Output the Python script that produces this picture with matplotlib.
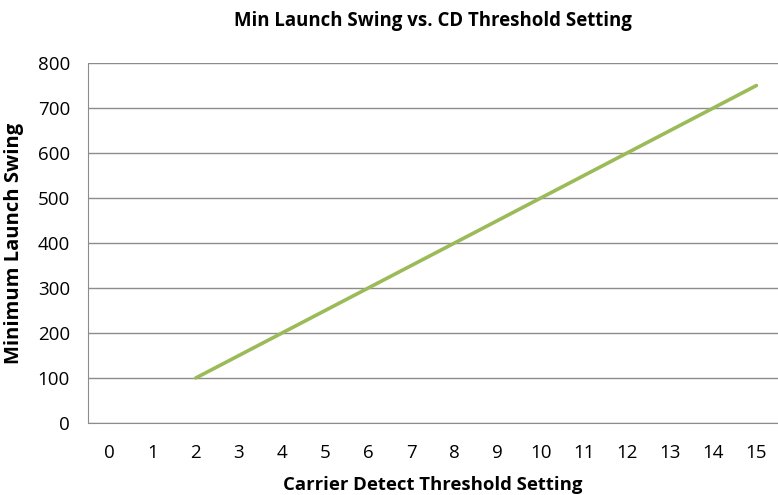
import matplotlib
matplotlib.use('Agg')
import matplotlib.pyplot as plt

# data
settings = [2, 3, 4, 5, 6, 7, 8, 9, 10, 11, 12, 13, 14, 15]
min_swing = [100, 150, 200, 250, 300, 350, 400, 450, 500, 550, 600, 650, 700, 750]
x_ticks = list(range(0, 16))
y_ticks = [0, 100, 200, 300, 400, 500, 600, 700, 800]

plt.rcParams['font.family'] = ['Open Sans', 'DejaVu Sans']

fig = plt.figure(figsize=(7.78, 4.95), dpi=100)
ax = fig.add_axes([0.1131, 0.1455, 0.8869, 0.7272])

ax.plot(settings, min_swing, color='#9BBB59', linewidth=2.6, solid_capstyle='round', zorder=3)

ax.set_xlim(-0.5, 15.5)
ax.set_ylim(0, 800)
ax.set_xticks(x_ticks)
ax.set_yticks(y_ticks)
ax.tick_params(length=0, labelsize=13.5)
ax.tick_params(axis='y', pad=13)
ax.tick_params(axis='x', pad=15)

ax.yaxis.grid(True, color='#8c8c8c', linewidth=1.0)
ax.set_axisbelow(True)
for s in ['top', 'right']:
    ax.spines[s].set_visible(False)
ax.spines['left'].set_color('#8c8c8c')
ax.spines['bottom'].set_color('#8c8c8c')

ax.set_title('Min Launch Swing vs. CD Threshold Setting', fontsize=13.4, fontweight='bold', pad=27)
ax.set_xlabel('Carrier Detect Threshold Setting', fontsize=13.3, fontweight='bold', labelpad=10)
ax.set_ylabel('Minimum Launch Swing', fontsize=14.5, fontweight='bold', labelpad=10)

fig.savefig('out.png', dpi=100)
